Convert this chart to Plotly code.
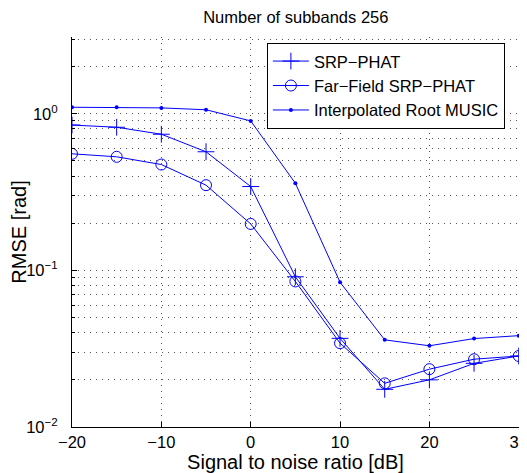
import plotly.graph_objects as go

snr = [-20, -15, -10, -5, 0, 5, 10, 15, 20, 25, 30]
srp_phat = [0.847, 0.82, 0.74, 0.572, 0.343, 0.091, 0.0368, 0.0174, 0.020, 0.0255, 0.0284]
far_field = [0.555, 0.531, 0.474, 0.35, 0.198, 0.085, 0.0343, 0.019, 0.0234, 0.0271, 0.0284]
root_music = [1.10, 1.10, 1.09, 1.06, 0.90, 0.36, 0.084, 0.036, 0.033, 0.0367, 0.0383]

x_ticks = [-20, -10, 0, 10, 20, 30]
x_ticktext = ["\u221220", "\u221210", "0", "10", "20", "30"]
y_ticks = [0.01, 0.1, 1]
y_ticktext = ["10<sup>\u22122</sup>", "10<sup>\u22121</sup>", "10<sup>0</sup>"]
y_minor = [0.02, 0.03, 0.04, 0.05, 0.06, 0.07, 0.08, 0.09,
           0.2, 0.3, 0.4, 0.5, 0.6, 0.7, 0.8, 0.9, 2, 3]

blue = "#0000ff"
FONT = "Liberation Sans, Arial, Helvetica, sans-serif"
FS = 16.5
GRID = "#555555"
DASH = "1px,5px"

fig = go.Figure()
fig.add_trace(go.Scatter(x=snr, y=srp_phat, name="SRP\u2212PHAT", mode="lines+markers",
                         line=dict(color=blue, width=1),
                         marker=dict(symbol="cross-thin", size=12, line=dict(color=blue, width=1))))
fig.add_trace(go.Scatter(x=snr, y=far_field, name="Far\u2212Field SRP\u2212PHAT", mode="lines+markers",
                         line=dict(color=blue, width=1),
                         marker=dict(symbol="circle-open", size=11, color=blue, line=dict(color=blue, width=1))))
fig.add_trace(go.Scatter(x=snr, y=root_music, name="Interpolated Root MUSIC", mode="lines+markers",
                         line=dict(color=blue, width=1),
                         marker=dict(symbol="circle", size=4, color=blue)))

# page body has an 8px margin, so the figure is offset by 8px
fig.update_layout(
    width=519, height=465,
    margin=dict(l=64, r=8, t=29, b=46, autoexpand=False),
    paper_bgcolor="white", plot_bgcolor="white",
    font=dict(family=FONT, size=FS, color="black"),
    title=dict(text="Number of subbands 256", x=0.5545, xanchor="center",
               y=0.981, yanchor="middle", font=dict(size=FS)),
    legend=dict(x=0.436, y=0.985, xanchor="left", yanchor="top",
                bgcolor="white", bordercolor="black", borderwidth=1,
                font=dict(size=FS), tracegroupgap=0, itemwidth=36),
    showlegend=True,
)
fig.update_xaxes(
    range=[-20, 30.03], tickvals=x_ticks, ticktext=x_ticktext,
    showline=True, linecolor="black", linewidth=1, mirror=False,
    ticks="inside", ticklen=5, tickcolor="black",
    showgrid=True, gridcolor=GRID, griddash=DASH, gridwidth=1,
    zeroline=False, automargin=True, ticklabeloverflow="allow",
    title=dict(text="Signal to noise ratio [dB]", standoff=4),
)
fig.update_yaxes(
    type="log", range=[-2, 0.49], tickvals=y_ticks, ticktext=y_ticktext,
    showline=True, linecolor="black", linewidth=1, mirror=False,
    ticks="inside", ticklen=5, tickcolor="black",
    showgrid=True, gridcolor=GRID, griddash=DASH, gridwidth=1,
    zeroline=False, ticklabelstandoff=10, automargin=True,
    minor=dict(tickvals=y_minor, ticks="inside", ticklen=3, tickcolor="black",
               showgrid=True, gridcolor=GRID, griddash=DASH, gridwidth=1),
    title=dict(text="RMSE [rad]", standoff=22),
)

fig.write_html("out.html")
